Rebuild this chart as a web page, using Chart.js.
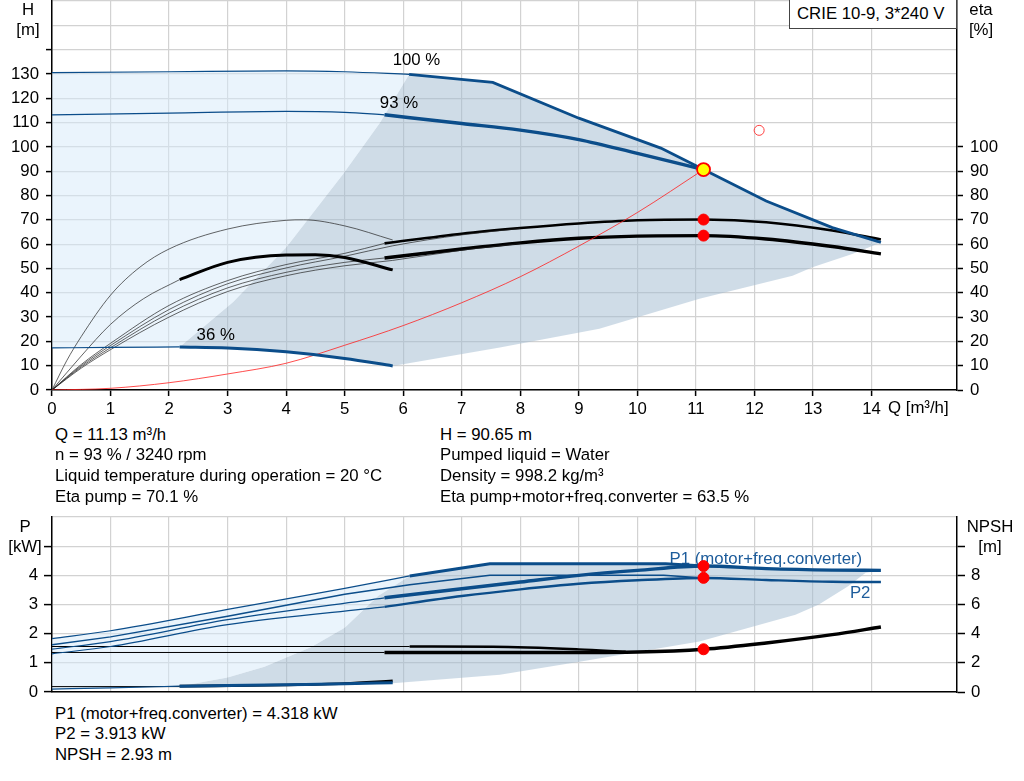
<!DOCTYPE html>
<html>
<head>
<meta charset="utf-8">
<script src="https://cdn.jsdelivr.net/npm/chart.js@4.4.1/dist/chart.umd.min.js"></script>
<style>
  body { margin: 0; width: 1024px; height: 781px; position: relative; overflow: hidden; background: #fff;
         font-family: "Liberation Sans", Arial, sans-serif; font-size: 16.8px; color: #000; }
  canvas { position: absolute; left: 0; }
  .txt { position: absolute; white-space: nowrap; line-height: 20px; }
  .centro { transform: translateX(-50%); }
  .caja { position: absolute; left: 789px; top: -1px; width: 168px; height: 30px; box-sizing: border-box;
          border: 1px solid #444; background: #fff; padding-left: 7px; line-height: 28px; }
</style>
</head>
<body>
<canvas id="graficoH" width="1024" height="420" style="top:0"></canvas>
<canvas id="graficoP" width="1024" height="200" style="top:500px"></canvas>

<div class="caja">CRIE 10-9, 3*240 V</div>
<div class="txt centro" style="left:28px; top:0">H</div>
<div class="txt centro" style="left:28px; top:20px">[m]</div>
<div class="txt centro" style="left:981px; top:0">eta</div>
<div class="txt centro" style="left:981px; top:20px">[%]</div>
<div class="txt" style="left:888px; top:398px">Q [m³/h]</div>

<div class="txt" style="left:55px; top:425px">Q = 11.13 m³/h</div>
<div class="txt" style="left:55px; top:445px">n = 93 % / 3240 rpm</div>
<div class="txt" style="left:55px; top:466px">Liquid temperature during operation = 20 °C</div>
<div class="txt" style="left:55px; top:487px">Eta pump = 70.1 %</div>
<div class="txt" style="left:440px; top:425px">H = 90.65 m</div>
<div class="txt" style="left:440px; top:445px">Pumped liquid = Water</div>
<div class="txt" style="left:440px; top:466px">Density = 998.2 kg/m³</div>
<div class="txt" style="left:440px; top:487px">Eta pump+motor+freq.converter = 63.5 %</div>

<div class="txt centro" style="left:25px; top:517px">P</div>
<div class="txt centro" style="left:25px; top:537px">[kW]</div>
<div class="txt centro" style="left:990px; top:517px">NPSH</div>
<div class="txt centro" style="left:990px; top:537px">[m]</div>

<div class="txt" style="left:55px; top:704px">P1 (motor+freq.converter) = 4.318 kW</div>
<div class="txt" style="left:55px; top:724px">P2 = 3.913 kW</div>
<div class="txt" style="left:55px; top:745px">NPSH = 2.93 m</div>

<script>
// Etiquetas de los ejes
const etiquetasQ = [0, 1, 2, 3, 4, 5, 6, 7, 8, 9, 10, 11, 12, 13, 14];
const etiquetasH = [0, 10, 20, 30, 40, 50, 60, 70, 80, 90, 100, 110, 120, 130];
const etiquetasEta = [0, 10, 20, 30, 40, 50, 60, 70, 80, 90, 100];
const etiquetasP = [0, 1, 2, 3, 4];
const etiquetasNpsh = [0, 2, 4, 6, 8];

// Curvas Q-H  [Q m³/h, H m]
const h100Fina = [[0, 130.5], [2, 130.9], [4, 131.3], [5, 130.9], [6.1, 129.8]];
const h100Gruesa = [[6.1, 129.8], [7.53, 126.5], [9, 111.8], [10.4, 99.5], [11.13, 90.65], [12.2, 77.7], [13.33, 66.8], [14.16, 60.7]];
const h93Fina = [[0, 113.2], [2, 113.9], [4, 114.6], [5, 114.2], [5.68, 113.2]];
const h93Gruesa = [[5.68, 113.2], [7, 109.6], [8, 106.9], [9, 103], [10, 97.3], [11.13, 90.65]];
const h36Fina = [[0, 17.3], [1, 17.5], [2.18, 17.7]];
const h36Gruesa = [[2.18, 17.7], [3, 17.3], [4, 15.7], [5, 13], [5.82, 9.9]];
const curvaSistema = [[0, 0], [1, 0.7], [2, 3], [3, 6.6], [4, 11], [5, 18.4], [6, 26.5], [7, 35.9], [8, 46.6], [9, 59.2], [10, 73], [11.13, 90.65]];
const puntoTrabajo = [[11.13, 90.65]];
const puntoRequerido = [[12.08, 106.8]];

// Zonas de operación (H)
const zonaClaraH = [[0, 130.5], [2, 130.9], [4, 131.3], [5, 130.9], [6.1, 129.8], [5.6, 109.8], [4.97, 88.7], [4, 58.6], [3.09, 36.1], [2.18, 17.7], [1, 17.5], [0, 17.3]];
const zonaOscuraH = [[2.18, 17.7], [3.09, 36.1], [4, 58.6], [4.97, 88.7], [5.6, 109.8], [6.1, 129.8], [7.53, 126.5], [9, 111.8], [10.4, 99.5], [11.13, 90.65], [12.2, 77.7], [13.33, 66.8], [14.16, 60.7],
  [13.67, 55.9], [12.99, 50.5], [12.65, 47], [11.06, 37.5], [9.35, 25.2], [7.65, 17.5], [5.82, 9.9], [5, 13], [4, 15.7], [3, 17.3]];

// Rendimientos  [Q m³/h, eta %]
const etaBomba = [[5.68, 60.3], [7, 64.3], [8, 66.6], [9, 68.5], [10, 69.8], [11.13, 70.1], [12.2, 69], [13.33, 65.6], [14.16, 61.9]];
const etaTotal = [[5.68, 54.3], [7, 58], [8, 60.5], [9, 62.4], [10, 63.3], [11.13, 63.5], [12.2, 62.1], [13.33, 59], [14.16, 56]];
const etaArcoA = [[0, 0], [0.25, 12], [0.5, 22], [1, 39], [1.5, 50.5], [2, 58], [3, 66.2], [4, 69.8], [4.3, 70], [5, 67.5], [5.82, 61.7]];
const etaArcoBFina = [[0, 0], [0.5, 14], [1, 27], [1.56, 37.5], [2.18, 45.4]];
const etaArcoBGruesa = [[2.18, 45.4], [3, 52.5], [4, 55.5], [4.5, 55.6], [5, 54.5], [5.82, 49.4]];
const etaFina1 = [[0, 0], [0.5, 10.5], [1, 19.2], [2, 34.8], [3, 45], [4, 51.6], [5, 56.2], [5.68, 60.3]];
const etaFina2 = [[0, 0], [0.5, 10], [1, 18.3], [2, 33.1], [3, 43.7], [4, 50.2], [5, 55], [5.82, 59.3], [7, 63.8], [8, 66.4]];
const etaFina3 = [[0, 0], [0.5, 9.5], [1, 17.4], [2, 31.6], [3, 42], [4, 48.4], [5, 52.5], [5.68, 54.3]];
const etaFina4 = [[0, 0], [0.5, 9], [1, 16.6], [2, 30], [3, 40.5], [4, 47], [5, 51.1], [5.82, 53.3], [7, 57.5], [8, 60.2]];
const puntosEta = [[11.13, 70.1], [11.13, 63.5]];

// Potencias  [Q m³/h, P kW]
const p1_100Fina = [[0, 1.83], [1, 2.1], [3, 2.83], [5, 3.55], [6.11, 3.98]];
const p1_100Gruesa = [[6.11, 3.98], [7.48, 4.4], [10.48, 4.4], [11.13, 4.32]];
const p2_100 = [[0, 1.62], [1, 1.89], [3, 2.6], [5, 3.35], [6.11, 3.68], [7.48, 4], [10.45, 4], [11.13, 3.91]];
const p1_93Fina = [[0, 1.47], [1, 1.73], [3, 2.48], [5.68, 3.23]];
const p1_93Gruesa = [[5.68, 3.23], [7, 3.54], [8, 3.77], [9, 4], [10, 4.17], [11.13, 4.32], [12.2, 4.23], [13.33, 4.18], [14.16, 4.17]];
const p2_93Fina = [[0, 1.31], [1, 1.56], [3, 2.31], [5.68, 2.92]];
const p2_93Gruesa = [[5.68, 2.92], [7, 3.29], [8, 3.52], [9, 3.71], [10, 3.83], [11.13, 3.91], [12.2, 3.84], [13.33, 3.78], [14.16, 3.77]];
const p36Fina = [[0, 0.1], [1, 0.14], [2.18, 0.2]];
const p36Gruesa = [[2.18, 0.2], [3, 0.22], [4, 0.25], [5, 0.28], [5.82, 0.32]];
const puntosP = [[11.13, 4.318], [11.13, 3.913]];

// NPSH  [Q m³/h, NPSH m]
const npsh100Fina = [[0, 3.12], [6.11, 3.12]];
const npsh100Gruesa = [[6.11, 3.12], [7.53, 3.1], [9, 2.92], [9.8, 2.76]];
const npsh93Fina = [[0, 2.71], [5.68, 2.71]];
const npsh93Gruesa = [[5.68, 2.71], [7, 2.71], [8, 2.71], [9, 2.71], [10, 2.74], [11.13, 2.93], [12.2, 3.36], [13.33, 3.93], [14.16, 4.46]];
const npsh36Fina = [[0, 0.37], [2.18, 0.37]];
const npsh36Gruesa = [[2.18, 0.4], [4, 0.48], [5, 0.58], [5.82, 0.76]];
const puntoNpsh = [[11.13, 2.93]];

// Zonas de operación (P)
const zonaClaraP = [[0, 1.83], [1, 2.1], [3, 2.83], [5, 3.55], [6.11, 3.98], [5.57, 3.29], [5, 2.2], [4.43, 1.54], [3.63, 0.87], [3, 0.5], [2.18, 0.2], [1, 0.14], [0, 0.1]];
const zonaOscuraP = [[2.18, 0.2], [3, 0.5], [3.63, 0.87], [4.43, 1.54], [5, 2.2], [5.57, 3.29], [6.11, 3.98], [7.48, 4.4], [10.48, 4.4], [11.13, 4.32], [12.2, 4.23], [13.33, 4.18], [14.16, 4.17],
  [13.9, 4.09], [13.6, 3.63], [13.1, 3], [12.7, 2.65], [11.06, 1.73], [9.01, 1.04], [7.65, 0.59], [5.82, 0.3], [5, 0.28], [4, 0.25], [3, 0.22]];

document.addEventListener("DOMContentLoaded", () => {
  const azul = "#0b4d8a";
  const grilla = "#d2d2d2";
  const fuente = '"Liberation Sans", Arial, sans-serif';
  Chart.defaults.font.family = fuente;
  Chart.defaults.font.size = 16.8;
  Chart.defaults.color = "#000";

  const pts = arr => arr.map(([x, y]) => ({ x, y }));

  // Curva normal
  function linea(datos, color, ancho, eje, extra = {}) {
    return Object.assign({
      data: pts(datos), borderColor: color, borderWidth: ancho, yAxisID: eje,
      pointRadius: 0, fill: false, cubicInterpolationMode: "monotone"
    }, extra);
  }

  // Zona sombreada
  function zona(datos, color, eje) {
    return {
      data: pts(datos), borderColor: "rgba(0,0,0,0)", backgroundColor: color, yAxisID: eje,
      pointRadius: 0, fill: "shape", tension: 0, order: 10
    };
  }

  // Puntos marcados
  function puntos(datos, eje, radio, relleno, borde, anchoBorde) {
    return {
      data: pts(datos), showLine: false, yAxisID: eje, order: -1,
      pointRadius: radio, pointBackgroundColor: relleno, pointBorderColor: borde, pointBorderWidth: anchoBorde
    };
  }

  // Textos sobre el gráfico, pintados justo después de las zonas
  const textos = {
    id: "textos",
    afterDatasetDraw(chart, args, opts) {
      if (args.index !== 0) return;
      const { ctx, scales } = chart;
      ctx.save();
      ctx.font = "16.8px " + fuente;
      ctx.textBaseline = "middle";
      opts.lista.forEach(t => {
        ctx.fillStyle = t.color || "#000";
        ctx.fillText(t.texto, scales.x.getPixelForValue(t.q), scales.y.getPixelForValue(t.v));
      });
      ctx.restore();
    }
  };

  const fijarAncho = w => s => { s.width = w; s.paddingTop = 0; s.paddingBottom = 0; };
  const fijarAlto = h => s => { s.height = h; s.paddingLeft = 0; s.paddingRight = 0; };
  const soloEnteros = s => { s.ticks = s.ticks.filter(t => Number.isInteger(t.value)); };
  const hasta = lim => s => { s.ticks = s.ticks.filter(t => t.value <= lim); };
  const borde = { color: "#000", width: 1.5 };

  function ejeQ(conEtiquetas) {
    return {
      type: "linear", min: 0, max: 15.46,
      afterFit: fijarAlto(conEtiquetas ? 30 : 8),
      afterBuildTicks: soloEnteros,
      ticks: { display: conEtiquetas, stepSize: 1, autoSkip: false, maxRotation: 0, padding: 3,
               callback: v => etiquetasQ.includes(v) ? v : "" },
      grid: { color: grilla, lineWidth: 1.2, drawTicks: conEtiquetas, tickLength: 6, tickColor: "#000", tickWidth: 1.5 },
      border: borde
    };
  }

  function ejeIzq(max, paso, etiquetas, limMarca, ancho, largo, sep) {
    return {
      position: "left", min: 0, max,
      afterFit: fijarAncho(ancho),
      ticks: { stepSize: paso, autoSkip: false, padding: sep, callback: v => etiquetas.includes(v) ? v : "" },
      grid: { color: grilla, lineWidth: 1.2, tickLength: largo, tickWidth: 1.5,
              tickColor: c => (c.tick && c.tick.value <= limMarca) ? "#000" : "rgba(0,0,0,0)" },
      border: borde
    };
  }

  function ejeDer(max, paso, etiquetas, lim, ancho, largo, sep) {
    return {
      position: "right", min: 0, max,
      afterFit: fijarAncho(ancho),
      afterBuildTicks: hasta(lim),
      ticks: { stepSize: paso, autoSkip: false, padding: sep, callback: v => etiquetas.includes(v) ? v : "" },
      grid: { drawOnChartArea: false, tickLength: largo, tickColor: "#000", tickWidth: 1.5 },
      border: borde
    };
  }

  const comunes = {
    responsive: false,
    animation: false,
    events: [],
    plugins: { legend: { display: false }, tooltip: { enabled: false } }
  };

  // Gráfico superior: H y eta
  new Chart(document.getElementById("graficoH"), {
    type: "line",
    data: {
      datasets: [
        zona(zonaClaraH, "rgba(214,233,249,0.5)", "y"),
        zona(zonaOscuraH, "rgba(160,185,208,0.5)", "y"),
        linea(h100Fina, azul, 1.2, "y"),
        linea(h100Gruesa, azul, 2.8, "y", { cubicInterpolationMode: "default", tension: 0 }),
        linea(h93Fina, azul, 1.2, "y"),
        linea(h93Gruesa, azul, 3.4, "y"),
        linea(h36Fina, azul, 1.2, "y"),
        linea(h36Gruesa, azul, 3, "y"),
        linea(curvaSistema, "#ff2020", 0.8, "y"),
        linea(etaArcoA, "#222", 0.7, "eta"),
        linea(etaArcoBFina, "#222", 0.7, "eta"),
        linea(etaArcoBGruesa, "#000", 3, "eta"),
        linea(etaFina1, "#222", 0.7, "eta"),
        linea(etaFina2, "#222", 0.7, "eta"),
        linea(etaFina3, "#222", 0.7, "eta"),
        linea(etaFina4, "#222", 0.7, "eta"),
        linea(etaBomba, "#000", 2.6, "eta"),
        linea(etaTotal, "#000", 3.4, "eta"),
        puntos(puntosEta, "eta", 5.5, "#ff0000", "#ff0000", 1),
        puntos(puntoRequerido, "y", 5, "rgba(0,0,0,0)", "#ff4040", 1),
        puntos(puntoTrabajo, "y", 6.5, "#ffff00", "#ff0000", 1.8)
      ]
    },
    options: Object.assign({}, comunes, {
      layout: { autoPadding: false, padding: { top: 1, left: 0, right: 0, bottom: 0 } },
      plugins: Object.assign({}, comunes.plugins, {
        textos: { lista: [
          { texto: "100 %", q: 5.82, v: 135.6 },
          { texto: "93 %", q: 5.6, v: 117.8 },
          { texto: "36 %", q: 2.47, v: 22.3 }
        ] }
      }),
      scales: {
        x: ejeQ(true),
        y: ejeIzq(160, 10, etiquetasH, 140, 52, 6, 7),
        eta: ejeDer(160, 10, etiquetasEta, 100, 67, 6, 7)
      }
    }),
    plugins: [textos]
  });

  // Gráfico inferior: P y NPSH
  new Chart(document.getElementById("graficoP"), {
    type: "line",
    data: {
      datasets: [
        zona(zonaClaraP, "rgba(214,233,249,0.5)", "y"),
        zona(zonaOscuraP, "rgba(160,185,208,0.5)", "y"),
        linea(p1_100Fina, azul, 1.2, "y"),
        linea(p1_100Gruesa, azul, 3, "y", { cubicInterpolationMode: "default", tension: 0 }),
        linea(p2_100, azul, 1.5, "y", { cubicInterpolationMode: "default", tension: 0 }),
        linea(p1_93Fina, azul, 1.2, "y"),
        linea(p1_93Gruesa, azul, 3.4, "y"),
        linea(p2_93Fina, azul, 1.2, "y"),
        linea(p2_93Gruesa, azul, 2.4, "y"),
        linea(p36Fina, azul, 1.2, "y"),
        linea(p36Gruesa, azul, 3, "y"),
        linea(npsh100Fina, "#000", 1, "npsh"),
        linea(npsh100Gruesa, "#000", 2.4, "npsh"),
        linea(npsh93Fina, "#000", 1, "npsh"),
        linea(npsh93Gruesa, "#000", 3.4, "npsh"),
        linea(npsh36Fina, "#000", 1, "npsh"),
        linea(npsh36Gruesa, "#000", 2.6, "npsh"),
        puntos(puntosP, "y", 5.5, "#ff0000", "#ff0000", 1),
        puntos(puntoNpsh, "npsh", 5.5, "#ff0000", "#ff0000", 1)
      ]
    },
    options: Object.assign({}, comunes, {
      layout: { autoPadding: false, padding: { top: 17, left: 0, right: 0, bottom: 0 } },
      plugins: Object.assign({}, comunes.plugins, {
        textos: { lista: [
          { texto: "P1 (motor+freq.converter)", q: 10.55, v: 4.55, color: "#1d5c9b" },
          { texto: "P2", q: 13.63, v: 3.38, color: "#1d5c9b" }
        ] }
      }),
      scales: {
        x: ejeQ(false),
        y: ejeIzq(6, 1, etiquetasP, 5, 52, 8, 6),
        npsh: ejeDer(12, 2, etiquetasNpsh, 10, 67, 8, 6)
      }
    }),
    plugins: [textos]
  });
});
</script>
</body>
</html>
